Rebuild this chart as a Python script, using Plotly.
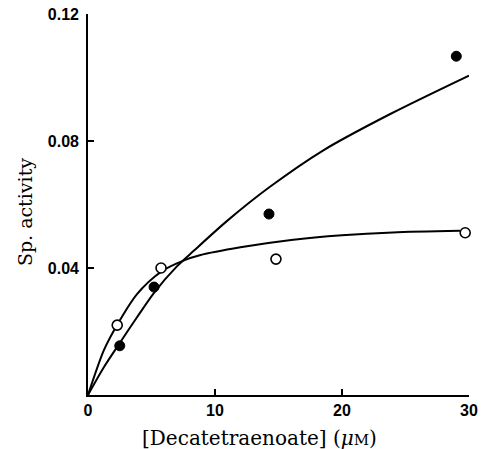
import plotly.graph_objects as go

# Measured points
filled_x = [2.5, 5.2, 14.25, 29.0]
filled_y = [0.0155, 0.034, 0.057, 0.1067]
open_x = [2.3, 5.75, 14.8, 29.7]
open_y = [0.022, 0.040, 0.0428, 0.0511]

# Fitted curves
fit_filled_x = [0, 1.26, 2.44, 3.86, 5.2, 7.0, 8.35, 11.0, 14.3, 18.5, 23.8, 30.0]
fit_filled_y = [0, 0.0088, 0.0160, 0.0245, 0.0322, 0.0405, 0.0455, 0.0550, 0.0655, 0.0770, 0.0885, 0.1006]
fit_open_x = [0, 1.26, 2.28, 3.86, 5.74, 7.56, 8.8, 12.0, 16.0, 20.0, 24.0, 29.3]
fit_open_y = [0, 0.0142, 0.0220, 0.0318, 0.0388, 0.0424, 0.0440, 0.0465, 0.0488, 0.0503, 0.0512, 0.0517]

x_ticks = [0, 10, 20, 30]
y_ticks = [0.04, 0.08, 0.12]
y_tick_labels = ["0.04", "0.08", "0.12"]

fig = go.Figure()
fig.add_trace(go.Scatter(x=fit_filled_x, y=fit_filled_y, mode="lines",
                         line=dict(color="black", width=2, shape="spline", smoothing=0.8),
                         showlegend=False, hoverinfo="skip"))
fig.add_trace(go.Scatter(x=fit_open_x, y=fit_open_y, mode="lines",
                         line=dict(color="black", width=2, shape="spline", smoothing=0.8),
                         showlegend=False, hoverinfo="skip"))
fig.add_trace(go.Scatter(x=filled_x, y=filled_y, mode="markers",
                         marker=dict(symbol="circle", size=10, color="black",
                                     line=dict(color="black", width=1)),
                         showlegend=False, cliponaxis=False))
fig.add_trace(go.Scatter(x=open_x, y=open_y, mode="markers",
                         marker=dict(symbol="circle", size=10, color="white",
                                     line=dict(color="black", width=1.6)),
                         showlegend=False, cliponaxis=False))

tickfont = dict(family="Liberation Sans", size=16, color="black", weight="bold")
fig.update_xaxes(range=[0, 30], tickvals=x_ticks, ticktext=[str(v) for v in x_ticks],
                 showline=True, linecolor="black", linewidth=1.6, ticks="inside",
                 ticklen=6, tickwidth=1.6, tickcolor="black", showgrid=False,
                 zeroline=False, tickfont=tickfont, mirror=False, automargin=False)
fig.update_yaxes(range=[0, 0.12], tickvals=y_ticks, ticktext=y_tick_labels,
                 showline=True, linecolor="black", linewidth=1.6, ticks="inside",
                 ticklen=6, tickwidth=1.6, tickcolor="black", showgrid=False,
                 zeroline=False, tickfont=tickfont, ticklabelstandoff=4, automargin=False)

fig.add_annotation(text="[Decatetraenoate] (<i>μ</i><span style='font-size:15px'>M</span>)",
                   xref="paper", yref="paper", x=0.45, y=0, yshift=-43,
                   xanchor="center", yanchor="middle", showarrow=False,
                   font=dict(family="DejaVu Serif", size=20, color="#000000"))
fig.add_annotation(text="Sp. activity", xref="paper", yref="paper",
                   x=0, xshift=-63, y=0.48, textangle=-90,
                   xanchor="center", yanchor="middle", showarrow=False,
                   font=dict(family="DejaVu Serif", size=19, color="#000000"))

fig.update_layout(width=482, height=449, margin=dict(l=88, r=13, t=14, b=54),
                  paper_bgcolor="white", plot_bgcolor="white")
fig.write_html("out.html", config={"displayModeBar": False},
               post_script="document.body.style.margin='0';document.body.style.overflow='hidden';")
